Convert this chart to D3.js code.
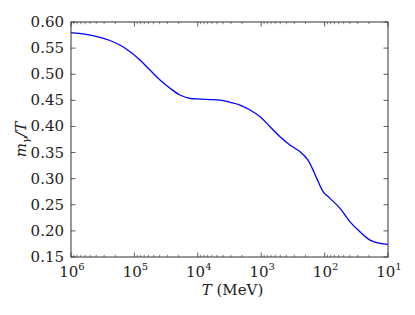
<!DOCTYPE html>
<html>
<head>
<meta charset="utf-8">
<script src="https://cdn.jsdelivr.net/npm/d3@7"></script>
<style>
  body { margin: 0; background: #fff; }
  svg text { font-family: "DejaVu Serif", "Liberation Serif", serif; }
</style>
</head>
<body>
<div id="chart"></div>
<script>
// values
var tempValues = [1e6, 6.01e5, 3.49e5, 2.43e5, 1.69e5, 1.17e5, 8.17e4, 5.68e4, 3.94e4, 2.74e4, 1.91e4, 1.33e4, 9.23e3, 6.43e3, 4.47e3, 3.1e3, 2.16e3, 1.5e3, 1.04e3, 726, 505, 352, 244, 183, 133, 105, 82.2, 57.1, 39.7, 27.7, 19.2, 13.4, 10];
var mgammaValues = [0.5795, 0.5766, 0.5707, 0.5646, 0.5559, 0.5431, 0.5272, 0.508, 0.4889, 0.473, 0.4602, 0.4538, 0.4525, 0.4515, 0.4506, 0.4462, 0.441, 0.4314, 0.4186, 0.3994, 0.3803, 0.3644, 0.3515, 0.3356, 0.3006, 0.2749, 0.2623, 0.2432, 0.2174, 0.1983, 0.1824, 0.1761, 0.1741];
var xTickExps = [6, 5, 4, 3, 2, 1];
var yTickValues = [0.15, 0.20, 0.25, 0.30, 0.35, 0.40, 0.45, 0.50, 0.55, 0.60];

var svgWidth = 415;
var svgHeight = 315;
var margin = { top: 22, right: 27, bottom: 58, left: 71 };
var width = svgWidth - margin.left - margin.right;
var height = svgHeight - margin.top - margin.bottom;

var svg = d3.select("#chart")
  .append("svg")
  .attr("width", svgWidth)
  .attr("height", svgHeight);

var chartGroup = svg.append("g")
  .attr("transform", `translate(${margin.left}, ${margin.top})`);

var xScale = d3.scaleLog().domain([1e6, 10]).range([0, width]);
var yScale = d3.scaleLinear().domain([0.15, 0.60]).range([height, 0]);

// minor tick positions
var minorTicks = [];
for (var d = 1; d < 6; d++) {
  for (var k = 2; k <= 9; k++) minorTicks.push(k * Math.pow(10, d));
}

var data = tempValues.map((t, i) => ({ t: t, v: mgammaValues[i] }));

// curve
var line = d3.line()
  .x((d) => xScale(d.t))
  .y((d) => yScale(d.v))
  .curve(d3.curveCatmullRom.alpha(0.5));

chartGroup.append("path")
  .datum(data)
  .attr("d", line)
  .attr("fill", "none")
  .attr("stroke", "#0000ff")
  .attr("stroke-width", 1.3);

var axisColor = "#333";

// x ticks bottom + top (inward)
var majorX = xTickExps.map((e) => Math.pow(10, e));
[[height, -1], [0, 1]].forEach(function (side) {
  chartGroup.selectAll(null)
    .data(majorX)
    .enter()
    .append("line")
    .attr("x1", (d) => xScale(d)).attr("x2", (d) => xScale(d))
    .attr("y1", side[0]).attr("y2", side[0] + side[1] * 4.5)
    .attr("stroke", axisColor).attr("stroke-width", 0.8);
  chartGroup.selectAll(null)
    .data(minorTicks)
    .enter()
    .append("line")
    .attr("x1", (d) => xScale(d)).attr("x2", (d) => xScale(d))
    .attr("y1", side[0]).attr("y2", side[0] + side[1] * 2.2)
    .attr("stroke", axisColor).attr("stroke-width", 0.6);
});

// y ticks left + right (inward)
[[0, 1], [width, -1]].forEach(function (side) {
  chartGroup.selectAll(null)
    .data(yTickValues)
    .enter()
    .append("line")
    .attr("x1", side[0]).attr("x2", side[0] + side[1] * 4.5)
    .attr("y1", (d) => yScale(d)).attr("y2", (d) => yScale(d))
    .attr("stroke", axisColor).attr("stroke-width", 0.8);
});

// frame
chartGroup.append("rect")
  .attr("width", width)
  .attr("height", height)
  .attr("fill", "none")
  .attr("stroke", axisColor)
  .attr("stroke-width", 1);

// x tick labels
var xLabels = chartGroup.selectAll(null)
  .data(xTickExps)
  .enter()
  .append("text")
  .attr("x", (d) => xScale(Math.pow(10, d)) + 1)
  .attr("y", height + 20)
  .attr("text-anchor", "middle")
  .attr("fill", "#222")
  .style("font-size", "15px");
xLabels.append("tspan").text("10");
xLabels.append("tspan")
  .attr("dy", -7)
  .style("font-size", "10px")
  .text((d) => d);

// y tick labels
chartGroup.selectAll(null)
  .data(yTickValues)
  .enter()
  .append("text")
  .attr("x", -7)
  .attr("y", (d) => yScale(d))
  .attr("dy", "0.33em")
  .attr("text-anchor", "end")
  .attr("fill", "#222")
  .style("font-size", "15px")
  .text((d) => d.toFixed(2));

// x axis label
var xTitle = chartGroup.append("text")
  .attr("x", width / 2 + 3)
  .attr("y", height + 38)
  .attr("text-anchor", "middle")
  .attr("fill", "#222")
  .style("font-size", "15px");
xTitle.append("tspan").style("font-style", "italic").text("T");
xTitle.append("tspan").text(" (MeV)");

// y axis label
var yTitle = chartGroup.append("text")
  .attr("transform", `translate(-45, ${height / 2}) rotate(-90)`)
  .attr("text-anchor", "middle")
  .attr("fill", "#222")
  .style("font-size", "15px");
yTitle.append("tspan").style("font-style", "italic").text("m");
yTitle.append("tspan").attr("dy", 3).style("font-size", "10px").style("font-style", "italic").text("γ");
yTitle.append("tspan").attr("dy", -3).style("font-style", "italic").text("/T");
</script>
</body>
</html>
